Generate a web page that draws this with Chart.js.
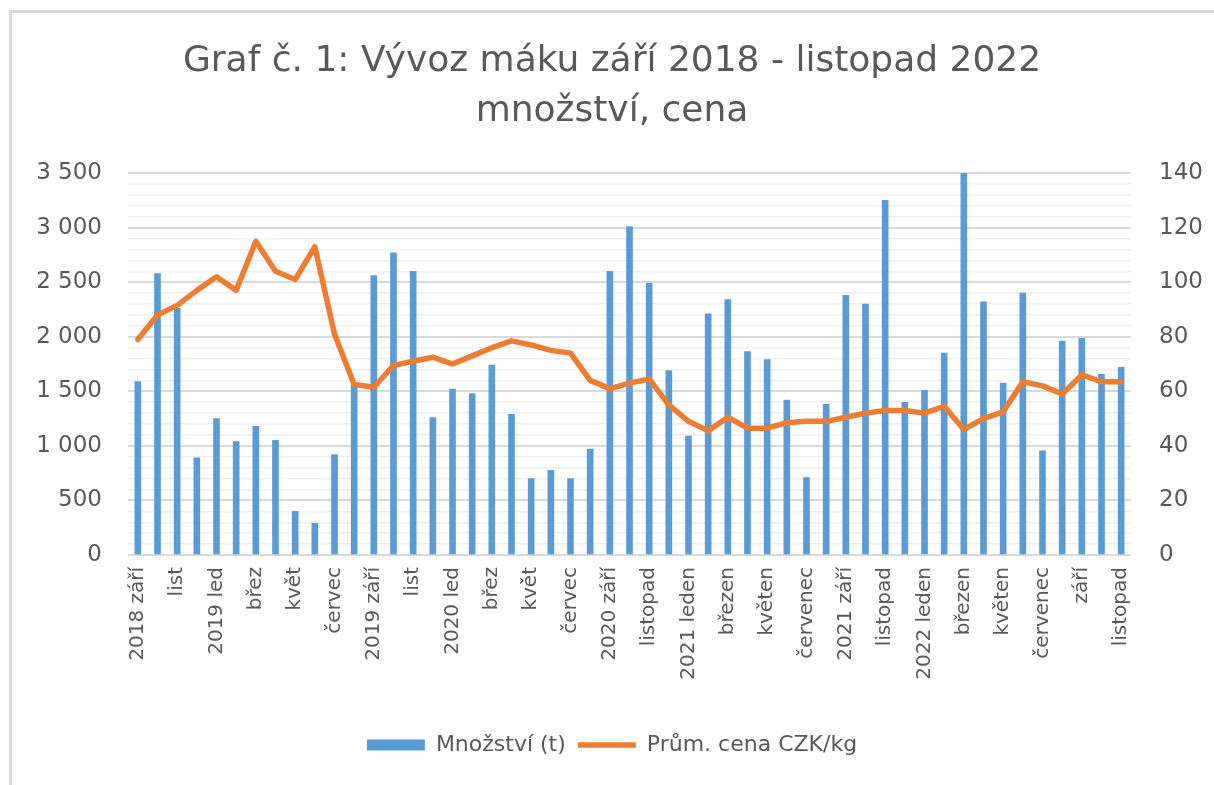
<!DOCTYPE html>
<html>
<head>
<meta charset="utf-8">
<script src="https://cdn.jsdelivr.net/npm/chart.js@4/dist/chart.umd.min.js"></script>
<style>
  body { margin: 0; background: #fff; }
  #frame { position: absolute; left: 9px; top: 10px; width: 1220px; height: 800px;
           border-left: 3px solid #d9d9d9; border-top: 3px solid #d9d9d9; }
  #wrap { position: absolute; left: 0; top: 0; width: 1214px; height: 785px; }
</style>
</head>
<body>
<div id="frame"></div>
<div id="wrap"><canvas id="c"></canvas></div>
<script>
// Months, září 2018 - listopad 2022 (only every other one is labelled on the axis)
const months = [
  '2018 září', 'říj', 'list', 'pros', '2019 led', 'ún', 'břez', 'dub', 'květ', 'červ', 'červec', 'srp',
  '2019 září', 'říj', 'list', 'pros', '2020 led', 'ún', 'břez', 'dub', 'květ', 'červ', 'červec', 'srp',
  '2020 září', 'říjen', 'listopad', 'prosinec', '2021 leden', 'únor', 'březen', 'duben', 'květen', 'červen', 'červenec', 'srpen',
  '2021 září', 'říjen', 'listopad', 'prosinec', '2022 leden', 'únor', 'březen', 'duben', 'květen', 'červen', 'červenec', 'srpen',
  'září', 'říjen', 'listopad'
];

// Množství (t)
const quantity = [
  1590, 2580, 2260, 890, 1250, 1040, 1180, 1050, 400, 290, 920, 1560,
  2560, 2770, 2600, 1260, 1520, 1480, 1740, 1290, 700, 775, 700, 970,
  2600, 3010, 2490, 1690, 1090, 2210, 2340, 1865, 1790, 1420, 710, 1380,
  2380, 2300, 3250, 1400, 1510, 1850, 3540, 2320, 1575, 2400, 955, 1960,
  1985, 1655, 1720
];

// Prům. cena CZK/kg
const price = [
  79, 88, 91.5, 97, 102, 97, 115, 104, 101, 113, 81, 62.5,
  61.5, 69.5, 71, 72.5, 70, 73, 76, 78.5, 77, 75, 74, 64,
  61, 63, 64.5, 55, 49, 45.5, 50.5, 46.5, 46.5, 48.5, 49, 49,
  50.5, 52, 53, 53, 52, 54.5, 46, 50, 52.5, 63.5, 62, 59,
  66, 63.5, 63.5
];

const titleLines = ['Graf č. 1: Vývoz máku září 2018 - listopad 2022', 'množství, cena'];

const FONT = "'DejaVu Sans', sans-serif";
const GREY = '#595959';
const fmt = v => String(v).replace(/\B(?=(\d{3})+(?!\d))/g, ' ');

new Chart(document.getElementById('c'), {
  data: {
    labels: months,
    datasets: [
      {
        type: 'bar',
        label: 'Množství (t)',
        data: quantity,
        backgroundColor: '#5b9bd5',
        barThickness: 6,
        yAxisID: 'y',
        pointStyle: 'rect',
        order: 2
      },
      {
        type: 'line',
        label: 'Prům. cena CZK/kg',
        data: price,
        borderColor: '#ed7d31',
        backgroundColor: '#ed7d31',
        borderWidth: 5.5,
        borderCapStyle: 'round',
        borderJoinStyle: 'round',
        pointRadius: 0,
        tension: 0,
        yAxisID: 'y1',
        pointStyle: 'line',
        order: 1
      }
    ]
  },
  options: {
    responsive: true,
    maintainAspectRatio: false,
    animation: false,
    layout: { padding: { left: 20, right: 10, top: 0, bottom: 19 } },
    plugins: {
      title: {
        display: true,
        text: titleLines,
        color: GREY,
        font: { family: FONT, size: 36, weight: 'normal', lineHeight: 1.39 },
        padding: { top: 37, bottom: 36 }
      },
      legend: {
        position: 'bottom',
        labels: {
          color: GREY,
          font: { family: FONT, size: 22 },
          usePointStyle: true,
          pointStyleWidth: 58,
          boxHeight: 11,
          padding: 12,
          sort: (a, b) => a.datasetIndex - b.datasetIndex
        }
      },
      tooltip: { enabled: false }
    },
    scales: {
      x: {
        grid: { display: false, drawTicks: false },
        border: { display: false },
        ticks: {
          autoSkip: false,
          maxRotation: 90,
          minRotation: 90,
          padding: 12,
          color: GREY,
          font: { family: FONT, size: 20 },
          callback: function (v, i) { return i % 2 === 0 ? this.getLabelForValue(v) : ''; }
        },
        afterFit: s => { s.height = 167; }
      },
      y: {
        position: 'left',
        min: 0,
        max: 3500,
        border: { display: false },
        grid: {
          drawTicks: false,
          color: c => c.tick.value % 500 === 0 ? '#d9d9d9' : '#efefef',
          lineWidth: c => c.tick.value % 500 === 0 ? 2 : 1.5
        },
        ticks: {
          stepSize: 100,
          autoSkip: false,
          padding: 26,
          color: GREY,
          font: { family: FONT, size: 23 },
          callback: v => v % 500 === 0 ? fmt(v) : ''
        },
        afterFit: s => { s.width = 108; }
      },
      y1: {
        position: 'right',
        min: 0,
        max: 140,
        border: { display: false },
        grid: { display: false, drawTicks: false },
        ticks: {
          stepSize: 20,
          padding: 28,
          color: GREY,
          font: { family: FONT, size: 23 }
        },
        afterFit: s => { s.width = 73; }
      }
    }
  }
});
</script>
</body>
</html>
